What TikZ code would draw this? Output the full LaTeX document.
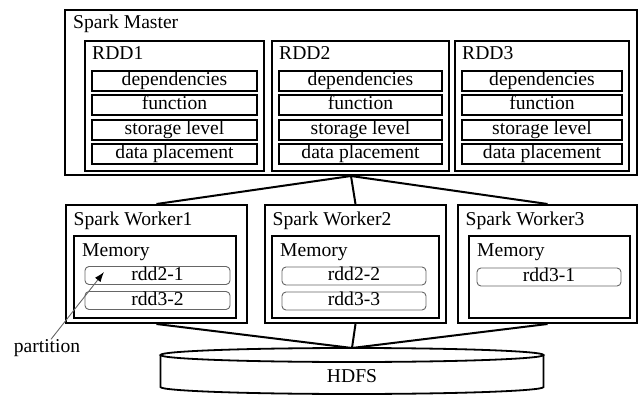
\documentclass[tikz,border=0pt]{standalone}
\usepackage{fontspec}
\setmainfont{Liberation Serif}
\usetikzlibrary{arrows.meta}

\begin{document}
\begin{tikzpicture}[x=1pt,y=-1pt,line join=miter]
  % Styles
  \tikzstyle{every node}=[font=\fontsize{19.6}{23}\selectfont,text height=13pt,text depth=4pt,inner sep=0pt]
  \tikzstyle{frame}=[draw,line width=2pt]
  \tikzstyle{field}=[draw,line width=2.2pt,minimum height=20pt]
  \tikzstyle{part}=[draw=black!60,line width=0.9pt,rounded corners=4pt,minimum height=18pt]
  \tikzstyle{title}=[anchor=west]
  \tikzstyle{link}=[line width=2pt]

  \useasboundingbox (0,0) rectangle (643,396);

  % Master with its three RDDs
  \node[frame,minimum width=572pt,minimum height=165pt] (master) at (351,92.5) {};
  \node[title] (master label) at (73,24) {Spark Master};

  \foreach \i/\cx/\w in {1/174.5/179, 2/360.5/177, 3/542/174} {
    \node[frame,minimum width=\w,minimum height=130pt] (rdd\i) at (\cx,106) {};
    \node[title] (rdd\i label) at (\cx-\w/2+7,55) {RDD\i};
    \foreach \f [count=\k] in {dependencies,function,storage level,data placement}
      \node[field,minimum width=\w-14] (rdd\i f\k) at (\cx,81+24.3*\k-24.3) {\f};
  }

  % Workers
  \foreach \i/\cx/\w/\mcx/\mw in {1/156.5/181/155/162, 2/355.5/181/355.5/167, 3/547.5/179/549.5/161} {
    \node[frame,minimum width=\w,minimum height=118pt] (w\i) at (\cx,264) {};
    \node[title] (w\i label) at (\cx-\w/2+7.5,221) {Spark Worker\i};
    \node[frame,line width=2.4pt,minimum width=\mw,minimum height=82pt] (mem\i) at (\mcx,277) {};
    \node[title] (mem\i label) at (\mcx-\mw/2+8,252) {Memory};
  }

  % Partitions
  \node[part,minimum width=145pt] (p1-1) at (157.5,275.5) {rdd2-1};
  \node[part,minimum width=145pt] (p1-2) at (157.5,300.5) {rdd3-2};
  \node[part,minimum width=144pt] (p2-1) at (354,276) {rdd2-2};
  \node[part,minimum width=144pt] (p2-2) at (354,301) {rdd3-3};
  \node[part,minimum width=144pt] (p3-1) at (549,277) {rdd3-1};

  % HDFS
  \draw[line width=1.8pt] (352,355) ellipse (191.5 and 7);
  \draw[line width=1.8pt] (160.5,355) -- (160.5,387) arc (180:0:191.5 and 7) -- (543.5,355);
  \node (hdfs) at (352,378) {HDFS};
  \coordinate (hdfs top) at (352,348);

  % Connectors
  \foreach \i in {1,2,3} {
    \draw[link] (master.south) -- (w\i.north);
    \draw[link] (w\i.south) -- (hdfs top);
  }

  \node (partition) at (47,348) {partition};
  \coordinate (tip) at (104,272);
  \draw[black!60,line width=0.9pt,-{Latex[length=10pt,width=7pt,black]}] (partition.north) ++(4,0) -- (tip);
\end{tikzpicture}
\end{document}
